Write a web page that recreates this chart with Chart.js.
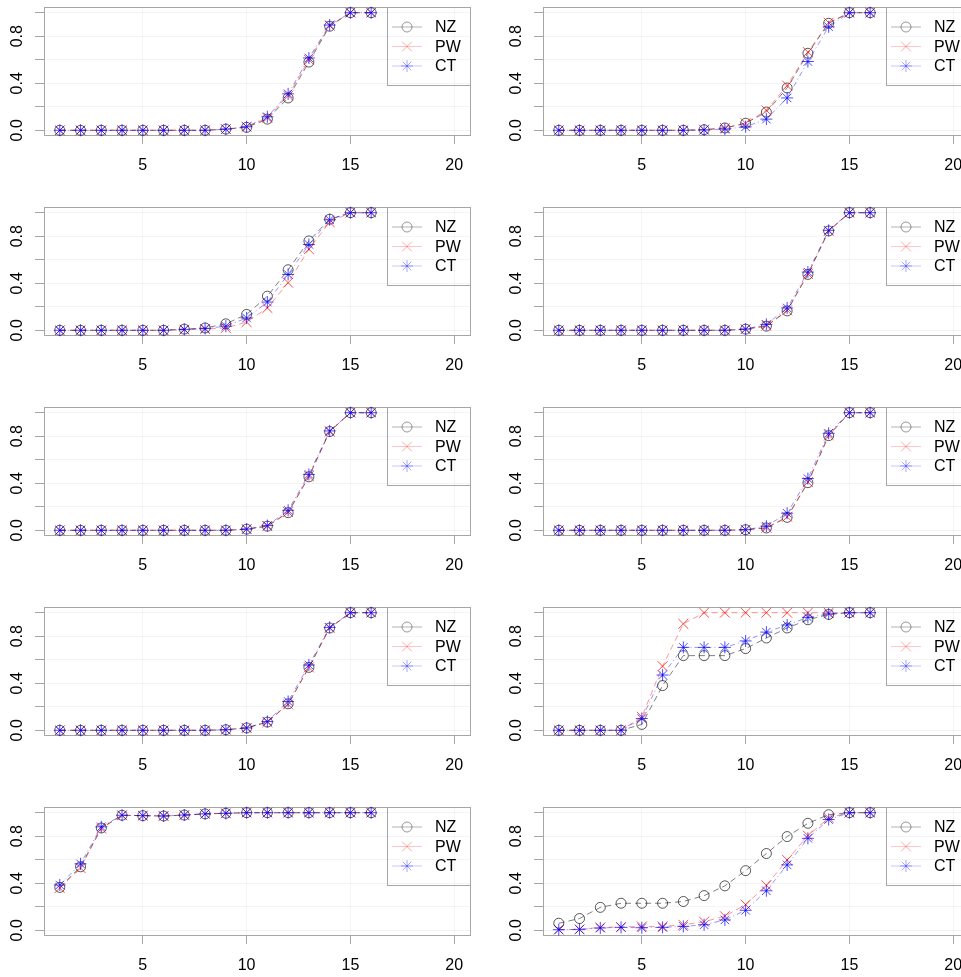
<!DOCTYPE html>
<html>
<head>
<meta charset="utf-8">
<script src="https://cdn.jsdelivr.net/npm/chart.js@4.4.1/dist/chart.umd.min.js"></script>
<style>
  html, body { margin: 0; padding: 0; background: #fff; }
  #page { position: relative; width: 961px; height: 977px; overflow: hidden; }
  #page canvas { position: absolute; }
</style>
</head>
<body>
<div id="page"></div>
<script>
// x positions and axis ticks
const xs = [1, 2, 3, 4, 5, 6, 7, 8, 9, 10, 11, 12, 13, 14, 15, 16];
const xTicks = [5, 10, 15, 20];
const yTicks = [0, 0.2, 0.4, 0.6, 0.8, 1.0];
const yLabelTicks = [0, 0.4, 0.8];
const seriesNames = ['NZ', 'PW', 'CT'];

// panel 1 (top left)
const nz1 = [0, 0, 0, 0, 0, 0, 0, 0, 0.01, 0.025, 0.095, 0.275, 0.58, 0.885, 1, 1];
const pw1 = [0, 0, 0, 0, 0, 0, 0, 0, 0.01, 0.03, 0.105, 0.295, 0.6, 0.89, 1, 1];
const ct1 = [0, 0, 0, 0, 0, 0, 0, 0, 0.01, 0.03, 0.115, 0.31, 0.615, 0.895, 1, 1];
// panel 2 (top right)
const nz2 = [0, 0, 0, 0, 0, 0, 0, 0.005, 0.02, 0.06, 0.155, 0.36, 0.655, 0.91, 1, 1];
const pw2 = [0, 0, 0, 0, 0, 0, 0, 0.005, 0.02, 0.06, 0.17, 0.38, 0.665, 0.915, 1, 1];
const ct2 = [0, 0, 0, 0, 0, 0, 0, 0.003, 0.01, 0.03, 0.095, 0.275, 0.585, 0.88, 1, 1];
// panel 3
const nz3 = [0, 0, 0, 0, 0, 0, 0.01, 0.02, 0.055, 0.135, 0.29, 0.515, 0.76, 0.945, 1, 1];
const pw3 = [0, 0, 0, 0, 0, 0, 0.005, 0.01, 0.02, 0.07, 0.19, 0.405, 0.69, 0.92, 1, 1];
const ct3 = [0, 0, 0, 0, 0, 0, 0.008, 0.015, 0.035, 0.105, 0.24, 0.475, 0.73, 0.94, 1, 1];
// panel 4
const nz4 = [0, 0, 0, 0, 0, 0, 0, 0, 0, 0.01, 0.035, 0.165, 0.475, 0.845, 1, 1];
const pw4 = [0, 0, 0, 0, 0, 0, 0, 0, 0, 0.01, 0.04, 0.17, 0.48, 0.845, 1, 1];
const ct4 = [0, 0, 0, 0, 0, 0, 0, 0, 0, 0.01, 0.05, 0.19, 0.495, 0.85, 1, 1];
// panel 5
const nz5 = [0, 0, 0, 0, 0, 0, 0, 0, 0, 0.01, 0.035, 0.15, 0.455, 0.84, 1, 1];
const pw5 = [0, 0, 0, 0, 0, 0, 0, 0, 0, 0.01, 0.035, 0.155, 0.46, 0.84, 1, 1];
const ct5 = [0, 0, 0, 0, 0, 0, 0, 0, 0, 0.01, 0.04, 0.17, 0.475, 0.845, 1, 1];
// panel 6
const nz6 = [0, 0, 0, 0, 0, 0, 0, 0, 0, 0.005, 0.02, 0.11, 0.405, 0.805, 1, 1];
const pw6 = [0, 0, 0, 0, 0, 0, 0, 0, 0, 0.005, 0.022, 0.115, 0.41, 0.81, 1, 1];
const ct6 = [0, 0, 0, 0, 0, 0, 0, 0, 0, 0.005, 0.035, 0.145, 0.44, 0.825, 1, 1];
// panel 7
const nz7 = [0, 0, 0, 0, 0, 0, 0, 0, 0.005, 0.02, 0.07, 0.225, 0.535, 0.87, 1, 1];
const pw7 = [0, 0, 0, 0, 0, 0, 0, 0, 0.005, 0.02, 0.07, 0.22, 0.535, 0.87, 1, 1];
const ct7 = [0, 0, 0, 0, 0, 0, 0, 0, 0.005, 0.02, 0.075, 0.245, 0.555, 0.875, 1, 1];
// panel 8
const nz8 = [0, 0, 0, 0, 0.05, 0.38, 0.635, 0.635, 0.635, 0.695, 0.785, 0.87, 0.94, 0.985, 1, 1];
const pw8 = [0, 0, 0, 0, 0.115, 0.545, 0.905, 1, 1, 1, 1, 1, 1, 1, 1, 1];
const ct8 = [0, 0, 0, 0, 0.1, 0.47, 0.705, 0.705, 0.705, 0.76, 0.835, 0.895, 0.96, 0.99, 1, 1];
// panel 9
const nz9 = [0.365, 0.54, 0.87, 0.978, 0.975, 0.972, 0.98, 0.99, 0.995, 1, 1, 1, 1, 1, 1, 1];
const pw9 = [0.36, 0.53, 0.865, 0.978, 0.975, 0.972, 0.98, 0.99, 0.995, 1, 1, 1, 1, 1, 1, 1];
const ct9 = [0.385, 0.565, 0.88, 0.978, 0.975, 0.972, 0.98, 0.99, 0.995, 1, 1, 1, 1, 1, 1, 1];
// panel 10 (bottom right)
const nz10 = [0.06, 0.1, 0.195, 0.23, 0.23, 0.23, 0.245, 0.295, 0.378, 0.507, 0.653, 0.797, 0.91, 0.983, 1, 1];
const pw10 = [0.005, 0.008, 0.025, 0.028, 0.033, 0.033, 0.047, 0.073, 0.12, 0.218, 0.383, 0.598, 0.805, 0.956, 1, 1];
const ct10 = [0.005, 0.008, 0.02, 0.025, 0.022, 0.025, 0.033, 0.047, 0.088, 0.17, 0.336, 0.556, 0.782, 0.942, 1, 1];

const panels = [
    [nz1, pw1, ct1], [nz2, pw2, ct2],
    [nz3, pw3, ct3], [nz4, pw4, ct4],
    [nz5, pw5, ct5], [nz6, pw6, ct6],
    [nz7, pw7, ct7], [nz8, pw8, ct8],
    [nz9, pw9, ct9], [nz10, pw10, ct10]
];

const FONT = '"Liberation Sans", Arial, Helvetica, sans-serif';
const axisColor = '#a6a6a6';
const gridColor = 'rgba(0,0,0,0.045)';

const styles = [
    { line: 'rgba(0,0,0,0.5)', point: 'rgba(0,0,0,0.65)', shape: 'circle', radius: 5, dash: [6, 4],
      legendLine: 'rgba(0,0,0,0.3)', legendPoint: 'rgba(0,0,0,0.4)' },
    { line: 'rgba(255,0,0,0.42)', point: 'rgba(255,0,0,0.7)', shape: 'crossRot', radius: 7, dash: [6, 4],
      legendLine: 'rgba(255,0,0,0.22)', legendPoint: 'rgba(255,0,0,0.35)' },
    { line: 'rgba(0,0,255,0.42)', point: 'rgba(0,0,255,0.7)', shape: 'star', radius: 6, dash: [5, 3, 1, 3],
      legendLine: 'rgba(0,0,255,0.22)', legendPoint: 'rgba(0,0,255,0.35)' }
];

function drawMarker(ctx, shape, x, y, r) {
    ctx.beginPath();
    if (shape === 'circle') {
        ctx.arc(x, y, r, 0, Math.PI * 2);
    } else {
        const d = r * Math.SQRT1_2;
        ctx.moveTo(x - d, y - d); ctx.lineTo(x + d, y + d);
        ctx.moveTo(x - d, y + d); ctx.lineTo(x + d, y - d);
        if (shape === 'star') {
            ctx.moveTo(x - r, y); ctx.lineTo(x + r, y);
            ctx.moveTo(x, y - r); ctx.lineTo(x, y + r);
        }
    }
    ctx.stroke();
}

// plot box around the chart area
const boxPlugin = {
    id: 'box',
    beforeDatasetsDraw(chart) {
        const { ctx, chartArea: a } = chart;
        ctx.save();
        ctx.strokeStyle = axisColor;
        ctx.lineWidth = 1;
        ctx.strokeRect(Math.round(a.left) + 0.5, Math.round(a.top) - 0.5,
            Math.round(a.right - a.left), Math.round(a.bottom - a.top) + 1);
        ctx.restore();
    }
};

// rotated y tick labels like base R
const yLabelPlugin = {
    id: 'yLabels',
    afterDraw(chart) {
        const { ctx } = chart;
        const y = chart.scales.y;
        ctx.save();
        ctx.font = '16px ' + FONT;
        ctx.fillStyle = '#000';
        ctx.textAlign = 'center';
        ctx.textBaseline = 'middle';
        yLabelTicks.forEach(v => {
            ctx.save();
            ctx.translate(18, y.getPixelForValue(v));
            ctx.rotate(-Math.PI / 2);
            ctx.fillText(v.toFixed(1), 0, 0);
            ctx.restore();
        });
        ctx.restore();
    }
};

// legend box in top right corner with line + marker samples
const legendPlugin = {
    id: 'rLegend',
    afterDraw(chart) {
        const { ctx, chartArea: a } = chart;
        const left = Math.round(a.right) - 83;
        const top = Math.round(a.top) - 1;
        ctx.save();
        ctx.strokeStyle = axisColor;
        ctx.lineWidth = 1;
        ctx.strokeRect(left + 0.5, top + 0.5, 83, 78);
        ctx.font = '16px ' + FONT;
        ctx.textAlign = 'left';
        ctx.textBaseline = 'middle';
        seriesNames.forEach((name, i) => {
            const st = styles[i];
            const yy = top + 20 + i * 19.5;
            ctx.strokeStyle = st.legendLine;
            ctx.beginPath();
            ctx.moveTo(left + 5, yy);
            ctx.lineTo(left + 35, yy);
            ctx.stroke();
            ctx.strokeStyle = st.legendPoint;
            drawMarker(ctx, st.shape, left + 20, yy, st.radius);
            ctx.fillStyle = '#000';
            ctx.fillText(name, left + 48, yy + 1);
        });
        ctx.restore();
    }
};

function createPanel(index, series) {
    const row = Math.floor(index / 2);
    const col = index % 2;
    const canvas = document.createElement('canvas');
    canvas.width = 500;
    canvas.height = 200;
    canvas.style.left = (col * 499) + 'px';
    canvas.style.top = (row * 200) + 'px';
    document.getElementById('page').appendChild(canvas);

    const datasets = seriesNames.map((name, i) => ({
        label: name,
        data: xs.map((x, j) => ({ x: x, y: series[i][j] })),
        borderColor: styles[i].line,
        borderWidth: 1,
        borderDash: styles[i].dash,
        pointStyle: styles[i].shape,
        pointRadius: styles[i].radius,
        pointBorderColor: styles[i].point,
        pointBackgroundColor: 'rgba(0,0,0,0)',
        pointBorderWidth: 1,
        fill: false,
        tension: 0,
        clip: false,
        order: 2 - i
    }));

    new Chart(canvas, {
        type: 'line',
        data: { datasets: datasets },
        options: {
            responsive: false,
            animation: false,
            devicePixelRatio: 1,
            layout: { padding: { top: 4, right: 30, left: 0, bottom: 0 } },
            plugins: {
                legend: { display: false },
                tooltip: { enabled: false }
            },
            scales: {
                x: {
                    type: 'linear',
                    min: 0.24,
                    max: 20.76,
                    afterBuildTicks: s => { s.ticks = xTicks.map(v => ({ value: v })); },
                    afterFit: s => {
                        s.height = 65;
                        s.paddingLeft = 0; s.paddingRight = 0;
                        s.paddingTop = 0; s.paddingBottom = 0;
                    },
                    border: { display: false },
                    grid: { color: gridColor, tickColor: axisColor, tickLength: 9 },
                    ticks: {
                        color: '#000',
                        font: { family: FONT, size: 16 },
                        padding: 12,
                        maxRotation: 0,
                        autoSkip: false,
                        callback: v => String(v)
                    }
                },
                y: {
                    type: 'linear',
                    min: -0.04,
                    max: 1.04,
                    afterBuildTicks: s => { s.ticks = yTicks.map(v => ({ value: v })); },
                    afterFit: s => {
                        s.width = 44;
                        s.paddingTop = 0; s.paddingBottom = 0;
                        s.paddingLeft = 0; s.paddingRight = 0;
                    },
                    border: { display: false },
                    grid: { color: gridColor, tickColor: axisColor, tickLength: 9 },
                    ticks: { display: false }
                }
            }
        },
        plugins: [boxPlugin, yLabelPlugin, legendPlugin]
    });
}

panels.forEach((series, i) => createPanel(i, series));
</script>
</body>
</html>
